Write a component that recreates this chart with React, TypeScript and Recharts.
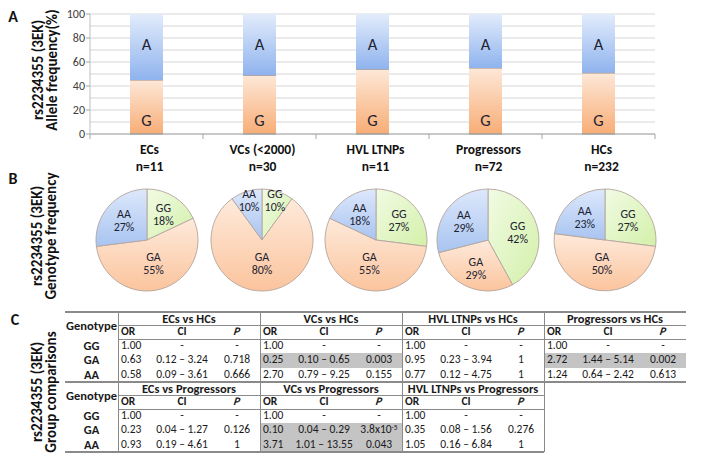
import React from "react";
import { BarChart, Bar, XAxis, YAxis, CartesianGrid, LabelList, PieChart, Pie, Cell } from "recharts";

const FONT = "Carlito, Lato, sans-serif";

// ---------- Panel A: allele frequency ----------
const GROUPS = ["ECs", "VCs (<2000)", "HVL LTNPs", "Progressors", "HCs"];
const GROUP_N = ["n=11", "n=30", "n=11", "n=72", "n=232"];
const ALLELE_G = [45, 49, 54, 55, 51];
const ALLELE_A = [55, 51, 46, 45, 49];
const Y_TICKS = [0, 10, 20, 30, 40, 50, 60, 70, 80, 90, 100];
const Y_LABELED = [0, 20, 40, 60, 80, 100];

// ---------- Panel B: genotype frequency ----------
const GENOTYPES = ["GG", "GA", "AA"];
const GENO_GG = [18, 10, 27, 42, 27];
const GENO_GA = [55, 80, 55, 29, 50];
const GENO_AA = [27, 10, 18, 29, 23];

// ---------- Panel C: group comparisons ----------
const COMPARE_HCS = ["ECs vs HCs", "VCs vs HCs", "HVL LTNPs vs HCs", "Progressors vs HCs"];
const OR_HCS = [[1.0, 0.63, 0.58], [1.0, 0.25, 2.7], [1.0, 0.95, 0.77], [1.0, 2.72, 1.24]];
const CI_HCS = [
  [null, [0.12, 3.24], [0.09, 3.61]],
  [null, [0.1, 0.65], [0.79, 9.25]],
  [null, [0.23, 3.94], [0.12, 4.75]],
  [null, [1.44, 5.14], [0.64, 2.42]],
];
const P_HCS = [[null, 0.718, 0.666], [null, 0.003, 0.155], [null, 1, 1], [null, 0.002, 0.613]];

const COMPARE_PROG = ["ECs vs Progressors", "VCs vs Progressors", "HVL LTNPs vs Progressors"];
const OR_PROG = [[1.0, 0.23, 0.93], [1.0, 0.1, 3.71], [1.0, 0.35, 1.05]];
const CI_PROG = [
  [null, [0.04, 1.27], [0.19, 4.61]],
  [null, [0.04, 0.29], [1.01, 13.55]],
  [null, [0.08, 1.56], [0.16, 6.84]],
];
const P_PROG = [[null, 0.126, 1], [null, 3.8e-5, 0.043], [null, 0.276, 1]];

// ---------- layout constants ----------
const PIE_CX = [147, 262, 376, 488, 605];
const BAND = 113;

const barData = GROUPS.map((g, i) => ({ name: g, n: GROUP_N[i], G: ALLELE_G[i], A: ALLELE_A[i] }));
const pieData = GROUPS.map((_, i) => [
  { name: GENOTYPES[0], value: GENO_GG[i] },
  { name: GENOTYPES[1], value: GENO_GA[i] },
  { name: GENOTYPES[2], value: GENO_AA[i] },
]);

const TXT = "#1d2230";

const YTick = (props: any) => {
  const { y, payload } = props;
  if (!Y_LABELED.includes(payload.value)) return <g />;
  return (
    <g>
      <line x1={86} x2={90} y1={y} y2={y} stroke="#a6a6a6" />
      <text x={85} y={y} textAnchor="end" dominantBaseline="central" fontSize={12} fill="#404040" fontFamily={FONT}>
        {payload.value}
      </text>
    </g>
  );
};

const XTick = (props: any) => {
  const { x, y, payload, index } = props;
  const i = GROUPS.indexOf(payload.value);
  return (
    <g>
      <line x1={x - BAND / 2} x2={x - BAND / 2} y1={y} y2={y + 5} stroke="#a6a6a6" />
      {index === GROUPS.length - 1 && (
        <line x1={x + BAND / 2} x2={x + BAND / 2} y1={y} y2={y + 5} stroke="#a6a6a6" />
      )}
      <text x={x + 3} y={y + 15} textAnchor="middle" dominantBaseline="central" fontSize={13.5} fontWeight="bold" fill="#111" fontFamily={FONT}>
        {payload.value}
      </text>
      <text x={x + 3} y={y + 32} textAnchor="middle" dominantBaseline="central" fontSize={13.5} fontWeight="bold" fill="#111" fontFamily={FONT}>
        {GROUP_N[i]}
      </text>
    </g>
  );
};

const GShape = (p: any) => {
  const { x, y, width, height } = p;
  return (
    <g>
      <rect x={x} y={y} width={width} height={height} fill="url(#barG)" />
      <line x1={x} x2={x + width} y1={y} y2={y} stroke="#9e8c80" strokeWidth={1.2} />
      <line x1={x} x2={x + width} y1={y + height} y2={y + height} stroke="#8c8c8c" strokeWidth={1.2} />
    </g>
  );
};

const RAD = Math.PI / 180;
const renderPieLabel = (p: any) => {
  const { cx, cy, midAngle, outerRadius, percent, name, value } = p;
  const f = percent < 0.15 ? 0.82 : percent >= 0.45 ? 0.46 : 0.6;
  const r = outerRadius * f;
  const x = cx + r * Math.cos(-midAngle * RAD);
  const y = cy + r * Math.sin(-midAngle * RAD);
  return (
    <text x={x} y={y} textAnchor="middle" fill={TXT} fontSize={12} fontFamily={FONT}>
      <tspan x={x} dy={-2}>{name}</tspan>
      <tspan x={x} dy={13}>{value}%</tspan>
    </text>
  );
};

const fmtP = (p: number | null) => {
  if (p == null) return "-";
  if (p < 0.001) {
    const e = Math.floor(Math.log10(p));
    const m = p / Math.pow(10, e);
    return (
      <span>
        {m.toFixed(1)}x10<sup style={{ fontSize: 7.5, verticalAlign: "top", lineHeight: "8px" }}>{e}</sup>
      </span>
    );
  }
  return String(p);
};
const fmtCI = (c: number[] | null) => (c ? `${c[0].toFixed(2)} – ${c[1].toFixed(2)}` : "-");

// table geometry
const TX = 65;
const GEN_W = 53;
const GROUP_W = 142;
const COLS = [0, 32, 96, 142];
const TITLE_H = 13;
const HEAD_H = 14;
const ROW_H = 14.3;
const LINE = "#8a8a8a";
const NUM_FS = 11.5;
const HEAD_FS = 12.5;

const abs = (s: any): any => ({ position: "absolute", whiteSpace: "nowrap", ...s });

function TableBlock({ top, titles, ors, cis, ps, drawTop }: any) {
  const g0 = TX + GEN_W;
  const right = g0 + titles.length * GROUP_W;
  const dataTop = top + TITLE_H + HEAD_H;
  const bottom = dataTop + 3 * ROW_H;
  const els: any[] = [];
  titles.forEach((_: string, gi: number) => {
    ps[gi].forEach((p: number | null, ri: number) => {
      if (p != null && p < 0.05) {
        els.push(
          <div key={`sh${gi}-${ri}`} style={abs({ left: g0 + gi * GROUP_W, top: dataTop + ri * ROW_H, width: GROUP_W, height: ROW_H, background: "#c4c4c4" })} />
        );
      }
    });
  });
  if (drawTop) els.push(<div key="top" style={abs({ left: TX, top: top - 0.75, width: 686 - TX, height: 1.5, background: LINE })} />);
  els.push(<div key="bot" style={abs({ left: TX, top: bottom - 0.75, width: (titles.length === 4 ? 686 : right) - TX, height: 1.5, background: LINE })} />);
  els.push(<div key="t1" style={abs({ left: g0, top: top + TITLE_H, width: right - g0, height: 1, background: LINE })} />);
  els.push(<div key="t2" style={abs({ left: g0, top: dataTop, width: right - g0, height: 1, background: LINE })} />);
  [0, 1, 2, 3].forEach((k) => {
    els.push(<div key={`v${k}`} style={abs({ left: g0 + k * GROUP_W, top, width: 1, height: bottom - top, background: LINE })} />);
  });
  els.push(
    <div key="gh" style={abs({ left: TX + GEN_W / 2, top: top + (TITLE_H + HEAD_H) / 2, transform: "translate(-50%,-50%)", fontWeight: "bold", fontSize: HEAD_FS })}>
      Genotype
    </div>
  );
  GENOTYPES.forEach((g, ri) => {
    els.push(
      <div key={`rl${ri}`} style={abs({ left: TX + GEN_W / 2, top: dataTop + (ri + 0.5) * ROW_H, transform: "translate(-50%,-50%)", fontWeight: "bold", fontSize: HEAD_FS })}>
        {g}
      </div>
    );
  });
  titles.forEach((t: string, gi: number) => {
    const gx = g0 + gi * GROUP_W;
    els.push(
      <div key={`ti${gi}`} style={abs({ left: gx + GROUP_W / 2, top: top + TITLE_H / 2 + 0.5, transform: "translate(-50%,-50%)", fontWeight: "bold", fontSize: HEAD_FS })}>
        {t}
      </div>
    );
    const hy = top + TITLE_H + HEAD_H / 2;
    els.push(<div key={`hor${gi}`} style={abs({ left: gx + 3, top: hy, transform: "translateY(-50%)", fontWeight: "bold", fontSize: NUM_FS })}>OR</div>);
    els.push(<div key={`hci${gi}`} style={abs({ left: gx + (COLS[1] + COLS[2]) / 2, top: hy, transform: "translate(-50%,-50%)", fontWeight: "bold", fontSize: NUM_FS })}>CI</div>);
    els.push(<div key={`hp${gi}`} style={abs({ left: gx + (COLS[2] + COLS[3]) / 2, top: hy, transform: "translate(-50%,-50%) skewX(-10deg)", fontWeight: "bold", fontStyle: "italic", fontSize: NUM_FS })}>P</div>);
    GENOTYPES.forEach((_, ri) => {
      const ry = dataTop + (ri + 0.5) * ROW_H;
      els.push(<div key={`or${gi}${ri}`} style={abs({ left: gx + 3, top: ry, transform: "translateY(-50%)", fontSize: NUM_FS })}>{ors[gi][ri].toFixed(2)}</div>);
      els.push(<div key={`ci${gi}${ri}`} style={abs({ left: gx + (COLS[1] + COLS[2]) / 2, top: ry, transform: "translate(-50%,-50%)", fontSize: NUM_FS })}>{fmtCI(cis[gi][ri])}</div>);
      els.push(<div key={`p${gi}${ri}`} style={abs({ left: gx + (COLS[2] + COLS[3]) / 2, top: ry, transform: "translate(-50%,-50%)", fontSize: NUM_FS })}>{fmtP(ps[gi][ri])}</div>);
    });
  });
  return <>{els}</>;
}

const RotLabel = ({ x, y, text, size = 15 }: any) => (
  <text x={x} y={y} transform={`rotate(-90 ${x} ${y})`} textAnchor="middle" dominantBaseline="central" fontSize={size} fontWeight="bold" fill="#111" fontFamily={FONT}>
    {text}
  </text>
);

export default function App() {
  return (
    <div style={{ position: "absolute", left: 0, top: 0, width: 701, height: 462, background: "#fff", overflow: "hidden", fontFamily: FONT, color: "#1a1a1a", lineHeight: 1 }}>
      <div style={{ position: "absolute", left: 0, top: 0 }}>
        <BarChart width={701} height={175} data={barData} margin={{ top: 14, right: 46, bottom: 0, left: 0 }}>
          <defs>
            <linearGradient id="barA" x1="0" y1="0" x2="0" y2="1">
              <stop offset="0" stopColor="#e2ecfb" />
              <stop offset="1" stopColor="#8fb3ee" />
            </linearGradient>
            <linearGradient id="barG" x1="0" y1="0" x2="0" y2="1">
              <stop offset="0" stopColor="#fde8d8" />
              <stop offset="1" stopColor="#f8ad76" />
            </linearGradient>
          </defs>
          <CartesianGrid vertical={false} stroke="#d6d6d6" />
          <XAxis dataKey="name" tickLine={false} tickSize={0} tickMargin={0} axisLine={{ stroke: "#a6a6a6" }} tick={(p: any) => <XTick {...p} />} height={41} interval={0} />
          <YAxis type="number" domain={[0, 100]} ticks={Y_TICKS} interval={0} tickLine={false} width={90} axisLine={{ stroke: "#bfbfbf" }} tick={(p: any) => <YTick {...p} />} />
          <Bar dataKey="G" stackId="s" barSize={33} fill="url(#barG)" isAnimationActive={false} shape={(p: any) => <GShape {...p} />}>
            <LabelList
              dataKey="G"
              content={(p: any) => (
                <text x={Number(p.x) + Number(p.width) / 2} y={Number(p.y) + Number(p.height) - 14} textAnchor="middle" dominantBaseline="central" fontSize={16.5} fill={TXT} fontFamily={FONT}>
                  G
                </text>
              )}
            />
          </Bar>
          <Bar dataKey="A" stackId="s" barSize={33} fill="url(#barA)" isAnimationActive={false}>
            <LabelList
              dataKey="A"
              content={(p: any) => (
                <text x={Number(p.x) + Number(p.width) / 2} y={Number(p.y) + 30} textAnchor="middle" dominantBaseline="central" fontSize={16.5} fill={TXT} fontFamily={FONT}>
                  A
                </text>
              )}
            />
          </Bar>
        </BarChart>
      </div>

      <div style={{ position: "absolute", left: 0, top: 180 }}>
        <PieChart width={701} height={125} margin={{ top: 0, right: 0, bottom: 0, left: 0 }}>
          <defs>
            <linearGradient id="pieGG" x1="0" y1="0" x2="1" y2="1">
              <stop offset="0" stopColor="#f1fbe4" />
              <stop offset="1" stopColor="#d3f0a9" />
            </linearGradient>
            <linearGradient id="pieGA" x1="0" y1="0" x2="0" y2="1">
              <stop offset="0" stopColor="#feeadb" />
              <stop offset="1" stopColor="#fbc49d" />
            </linearGradient>
            <linearGradient id="pieAA" x1="0" y1="0" x2="0" y2="1">
              <stop offset="0" stopColor="#dde8fb" />
              <stop offset="1" stopColor="#a8c4f1" />
            </linearGradient>
          </defs>
          {pieData.map((d, i) => (
            <Pie
              key={GROUPS[i]}
              data={d}
              dataKey="value"
              nameKey="name"
              cx={PIE_CX[i]}
              cy={60}
              outerRadius={51}
              startAngle={90}
              endAngle={-270}
              isAnimationActive={false}
              stroke="#b3a59c"
              strokeWidth={0.9}
              label={renderPieLabel}
              labelLine={false}
            >
              {d.map((s) => (
                <Cell key={s.name} fill={`url(#pie${s.name})`} />
              ))}
            </Pie>
          ))}
        </PieChart>
      </div>

      <TableBlock top={312} titles={COMPARE_HCS} ors={OR_HCS} cis={CI_HCS} ps={P_HCS} drawTop />
      <TableBlock top={382} titles={COMPARE_PROG} ors={OR_PROG} cis={CI_PROG} ps={P_PROG} />

      <svg width={701} height={462} style={{ position: "absolute", left: 0, top: 0, pointerEvents: "none" }}>
        <text x={13} y={16} textAnchor="middle" dominantBaseline="central" fontSize={16} fontWeight="bold" fill="#111" fontFamily={FONT}>A</text>
        <text x={13} y={178} textAnchor="middle" dominantBaseline="central" fontSize={16} fontWeight="bold" fill="#111" fontFamily={FONT}>B</text>
        <text x={15} y={319} textAnchor="middle" dominantBaseline="central" fontSize={16} fontWeight="bold" fill="#111" fontFamily={FONT}>C</text>
        <RotLabel x={38} y={70} text="rs2234355 (3EK)" />
        <RotLabel x={52} y={70} text="Allele frequency(%)" />
        <RotLabel x={37} y={236} text="rs2234355 (3EK)" />
        <RotLabel x={51} y={236} text="Genotype frequency" />
        <RotLabel x={37} y={392} text="rs2234355 (3EK)" />
        <RotLabel x={51} y={392} text="Group comparisons" />
      </svg>
    </div>
  );
}
